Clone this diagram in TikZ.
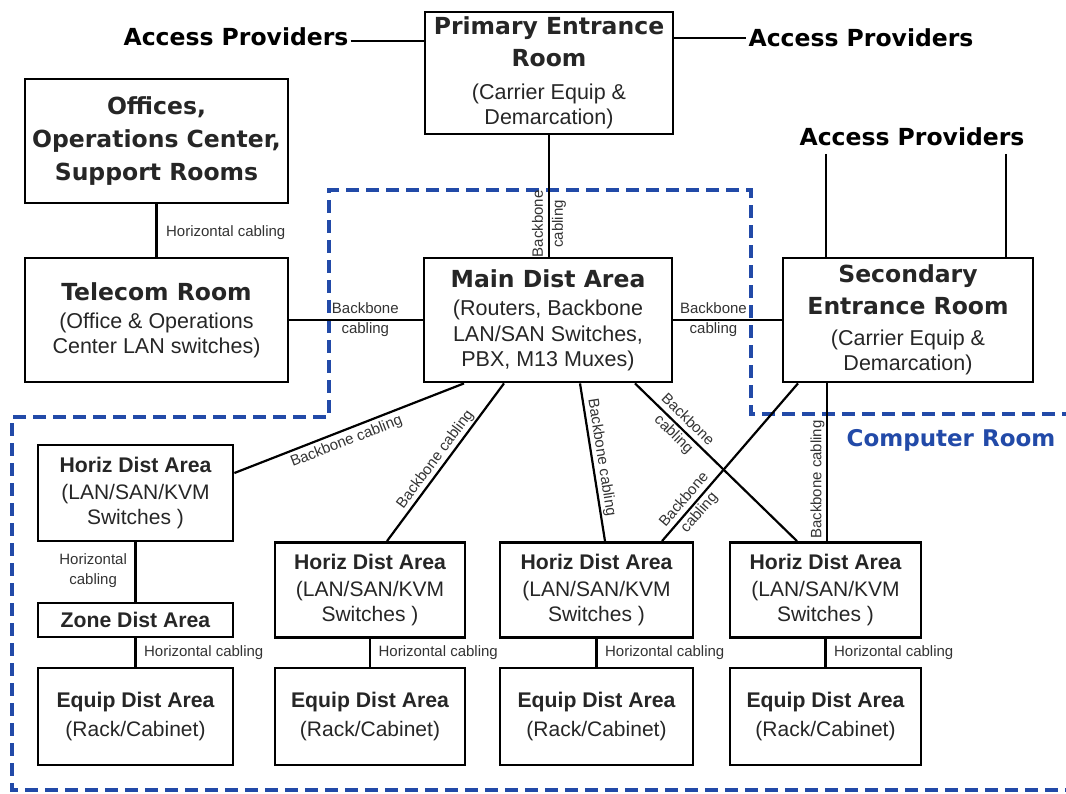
\documentclass[tikz,border=0pt]{standalone}
\usepackage{fontspec}
\setmainfont{Liberation Sans}
\newfontfamily\headfont{DejaVu Sans}
\definecolor{roomblue}{RGB}{34,74,168}
\newcommand\ttl{\headfont\bfseries\fontsize{23.5}{28}\selectfont}
\newcommand\lowttl{\bfseries\fontsize{21.2}{25}\selectfont}

\begin{document}
\begin{tikzpicture}[x=1pt,y=-1pt,
  box/.style={draw, line width=2.8pt, inner sep=0pt, align=center,
    text=black!85, font=\fontsize{21}{25}\selectfont},
  topbox/.style={box, minimum width=#1, minimum height=124pt, font=\fontsize{21.5}{25}\selectfont},
  lowbox/.style={box, minimum width=#1, minimum height=95pt},
  link/.style={line width=2.2pt},
  lbl/.style={font=\fontsize{15}{20}\selectfont, inner sep=1.5pt, align=center, text=black!80},
  aptext/.style={font=\ttl, inner sep=2pt},
  room/.style={draw=roomblue, line width=3.6pt, dash pattern=on 13pt off 7pt}
]
\useasboundingbox (0,0) rectangle (1066,794);

% computer room boundary
\draw[room] (1075,414) -- (751,414) -- (751,190) -- (329,190) -- (329,417)
  -- (12,417) -- (12,790) -- (1075,790);
\node[font=\headfont\bfseries\fontsize{23}{28}\selectfont, text=roomblue] (cr) at (951,440) {Computer Room};

% upper rooms
\node[topbox=248pt, minimum height=122pt] (pri) at (549,73)
  {{\ttl Primary Entrance}\\[7pt]{\ttl Room}\\[8pt](Carrier Equip \&\\Demarcation)};
\node[topbox=263pt] (off) at (156.5,141)
  {{\ttl Offices,}\\[8pt]{\ttl Operations Center,}\\[8pt]{\ttl Support Rooms}};
\node[topbox=263pt] (tel) at (156.5,320)
  {{\ttl Telecom Room}\\[3pt](Office \& Operations\\Center LAN switches)};
\node[topbox=248pt] (mda) at (548,320)
  {{\ttl Main Dist Area}\\[3pt](Routers, Backbone\\[1pt]LAN/SAN Switches,\\PBX, M13 Muxes)};
\node[topbox=250pt] (sec) at (908,320)
  {{\ttl Secondary}\\[7pt]{\ttl Entrance Room}\\[6pt](Carrier Equip \&\\Demarcation)};

% access providers
\node[aptext] (apL) at (236,37) {Access Providers};
\node[aptext] (apR) at (861,38) {Access Providers};
\node[aptext] (apT) at (912,137) {Access Providers};
\coordinate (apTa) at (826,154);
\coordinate (apTb) at (1006,154);
\draw[link] ([yshift=-4pt]apL.east) -- ([yshift=-4pt]apL.east -| pri.west);
\draw[link] (apR.west -| pri.east) -- (apR.west);
\draw[link] (apTa) -- (apTa |- sec.north);
\draw[link] (apTb) -- (apTb |- sec.north);

% computer room areas
\node[lowbox=195pt, minimum height=96pt] (hda1) at (135.5,493)
  {{\lowttl Horiz Dist Area}\\[2pt](LAN/SAN/KVM\\Switches )};
\node[box, minimum width=195pt, minimum height=34pt] (zda) at (135.5,620)
  {\lowttl Zone Dist Area};
\node[lowbox=195pt, minimum height=97pt] (eda1) at (135.5,716.5)
  {{\lowttl Equip Dist Area}\\[4pt](Rack/Cabinet)};
\node[lowbox=190pt] (hda2) at (370,590) {{\lowttl Horiz Dist Area}\\[2pt](LAN/SAN/KVM\\Switches )};
\node[lowbox=193pt] (hda3) at (596.5,590) {{\lowttl Horiz Dist Area}\\[2pt](LAN/SAN/KVM\\Switches )};
\node[lowbox=191pt] (hda4) at (825.5,590) {{\lowttl Horiz Dist Area}\\[2pt](LAN/SAN/KVM\\Switches )};
\node[lowbox=190pt, minimum height=97pt] (eda2) at (370,716.5) {{\lowttl Equip Dist Area}\\[4pt](Rack/Cabinet)};
\node[lowbox=193pt, minimum height=97pt] (eda3) at (596.5,716.5) {{\lowttl Equip Dist Area}\\[4pt](Rack/Cabinet)};
\node[lowbox=191pt, minimum height=97pt] (eda4) at (825.5,716.5) {{\lowttl Equip Dist Area}\\[4pt](Rack/Cabinet)};

% horizontal cabling
\draw[link] (off.south) -- node[lbl, right=7pt, pos=0.55] {Horizontal cabling} (tel.north);
\draw[link] (hda1.south) -- node[lbl, left=6pt, pos=0.48] {Horizontal\\cabling} (zda.north);
\draw[link] (zda.south) -- node[lbl, right=6pt] {Horizontal cabling} (eda1.north);
\draw[link] (hda2.south) -- node[lbl, right=6pt] {Horizontal cabling} (eda2.north);
\draw[link] (hda3.south) -- node[lbl, right=6pt] {Horizontal cabling} (eda3.north);
\draw[link] (hda4.south) -- node[lbl, right=6pt] {Horizontal cabling} (eda4.north);

% backbone cabling
\draw[link] (pri.south |- mda.north) -- node[lbl, pos=0.27, rotate=90] {Backbone\\cabling} (pri.south);
\draw[link] (tel.east) -- node[lbl, pos=0.57] {Backbone\\cabling} (mda.west);
\draw[link] (mda.east) -- node[lbl, pos=0.37] {Backbone\\cabling} (sec.west);
\draw[link] ([yshift=20pt]hda1.east) -- node[lbl, pos=0.47, below=2pt, sloped] {Backbone cabling} ([xshift=-84pt]mda.south);
\draw[link] ([xshift=17pt]hda2.north) -- node[lbl, pos=0.48, above, sloped] {Backbone cabling} ([xshift=-44pt]mda.south);
\draw[link] ([xshift=32pt]mda.south) -- node[lbl, pos=0.48, above, sloped] {Backbone cabling} ([xshift=8.5pt]hda3.north);
\draw[link] ([xshift=87pt]mda.south) -- node[lbl, pos=0.28, sloped] {Backbone\\cabling} ([xshift=-28.5pt]hda4.north);
\draw[link] ([xshift=65.5pt]hda3.north) -- node[lbl, pos=0.22, sloped] {Backbone\\cabling} ([xshift=-110pt]sec.south);
\draw[link] ([xshift=-81pt]sec.south) -- node[lbl, pos=0.61, rotate=90, above] {Backbone cabling} ([xshift=-81pt]sec.south |- hda4.north);
\end{tikzpicture}
\end{document}
